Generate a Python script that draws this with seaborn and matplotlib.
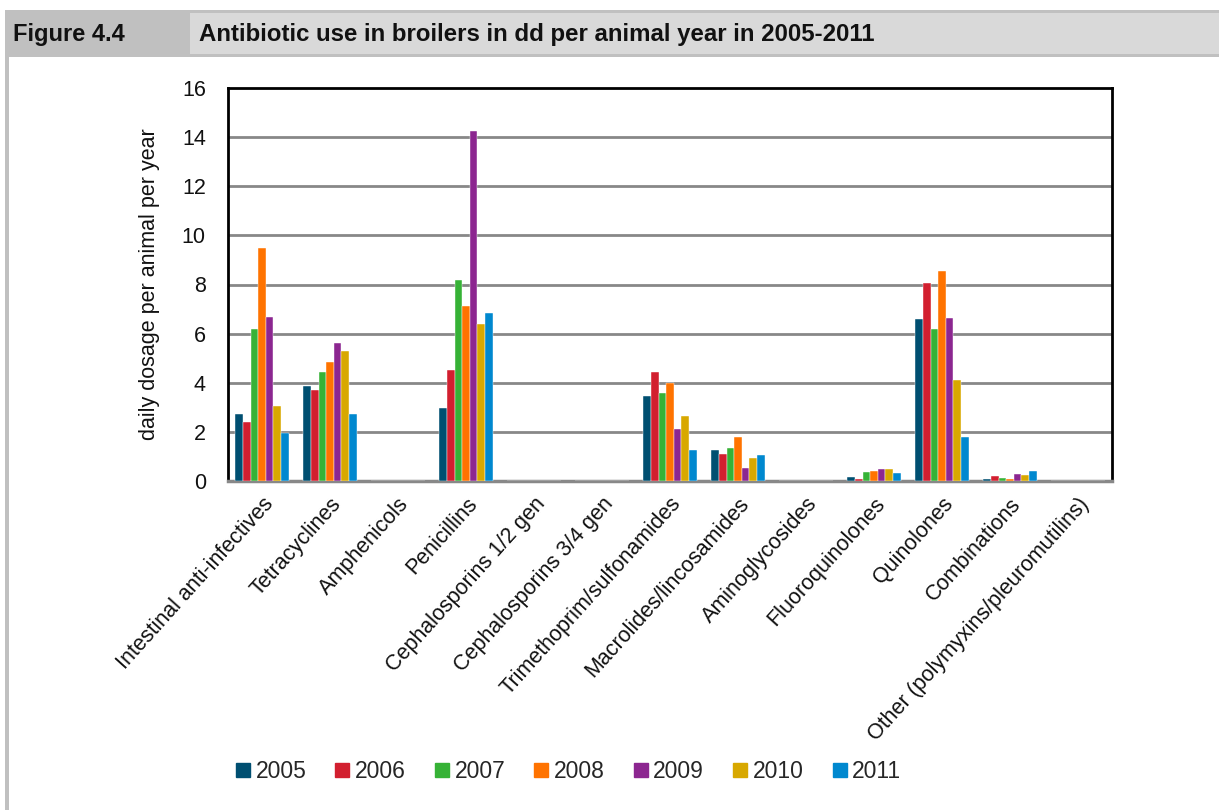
import matplotlib
matplotlib.use("Agg")
import matplotlib.pyplot as plt
from matplotlib.patches import Rectangle
from matplotlib.lines import Line2D
import seaborn as sns
import pandas as pd

categories = [
    "Intestinal anti-infectives", "Tetracyclines", "Amphenicols", "Penicillins",
    "Cephalosporins 1/2 gen", "Cephalosporins 3/4 gen", "Trimethoprim/sulfonamides",
    "Macrolides/lincosamides", "Aminoglycosides", "Fluoroquinolones", "Quinolones",
    "Combinations", "Other (polymyxins/pleuromutilins)",
]
years = ["2005", "2006", "2007", "2008", "2009", "2010", "2011"]

use_2005 = [2.72, 3.85, 0, 2.99, 0, 0, 3.46, 1.25, 0, 0.15, 6.58, 0.07, 0]
use_2006 = [2.40, 3.69, 0, 4.52, 0, 0, 4.44, 1.09, 0, 0.09, 8.07, 0.22, 0]
use_2007 = [6.19, 4.42, 0, 8.18, 0, 0, 3.60, 1.34, 0, 0.37, 6.20, 0.11, 0]
use_2008 = [9.50, 4.86, 0, 7.14, 0, 0, 3.98, 1.78, 0, 0.42, 8.56, 0.09, 0]
use_2009 = [6.68, 5.62, 0, 14.25, 0, 0, 2.13, 0.53, 0, 0.49, 6.63, 0.27, 0]
use_2010 = [3.04, 5.29, 0, 6.39, 0, 0, 2.66, 0.95, 0, 0.49, 4.11, 0.26, 0]
use_2011 = [1.94, 2.72, 0, 6.83, 0, 0, 1.26, 1.05, 0, 0.33, 1.81, 0.39, 0]
series = [use_2005, use_2006, use_2007, use_2008, use_2009, use_2010, use_2011]

y_ticks = [0, 2, 4, 6, 8, 10, 12, 14, 16]
palette = ["#004f71", "#d21f2f", "#36b236", "#ff7300", "#8c2690", "#d8a800", "#0088cf"]

rows = []
for year, vals in zip(years, series):
    for cat, v in zip(categories, vals):
        rows.append({"category": cat, "year": year, "value": v})
df = pd.DataFrame(rows)

sns.set_theme(style="white")
plt.rcParams["font.family"] = ["Liberation Sans", "DejaVu Sans"]

fig = plt.figure(figsize=(12.19, 8.10), dpi=100)
W, H = 1219, 810

def fx(px):
    return px / W

def fy(py):
    return 1 - py / H

# header band
fig.patches.append(Rectangle((fx(5), fy(57)), fx(1219 - 5), (57 - 10) / H,
                             transform=fig.transFigure, facecolor="#c0c0c0",
                             edgecolor="none", zorder=0))
fig.patches.append(Rectangle((fx(190), fy(54)), fx(1219 - 190), (54 - 13) / H,
                             transform=fig.transFigure, facecolor="#d9d9d9",
                             edgecolor="none", zorder=1))
# left border line
fig.patches.append(Rectangle((fx(5), 0), fx(4), fy(10),
                             transform=fig.transFigure, facecolor="#c0c0c0",
                             edgecolor="none", zorder=0))
fig.text(fx(13), fy(35), "Figure 4.4", fontsize=17, fontweight="bold",
         va="center", ha="left", color="#111111")
fig.text(fx(199), fy(35), "Antibiotic use in broilers in dd per animal year in 2005-2011",
         fontsize=17.3, fontweight="bold", va="center", ha="left", color="#111111")

ax = fig.add_axes([fx(228), fy(481), fx(1112 - 228), (481 - 88) / H])
sns.barplot(data=df, x="category", y="value", hue="year", palette=palette,
            saturation=1, width=0.78, gap=0, ax=ax, edgecolor="white",
            linewidth=0.3, legend=False, zorder=3)

ax.set_ylim(0, 16)
ax.set_xlim(-0.5, len(categories) - 0.5)
ax.set_yticks(y_ticks)
ax.set_yticklabels([str(t) for t in y_ticks], fontsize=15.5, color="#111111")
for t in y_ticks[1:-1]:
    ax.axhline(t, color="#888888", linewidth=2, zorder=1)

ax.set_xticks(range(len(categories)))
ax.set_xticklabels(categories, rotation=48, ha="right", rotation_mode="anchor",
                   fontsize=15.5, color="#111111")
ax.tick_params(axis="x", length=0, pad=9)
ax.tick_params(axis="y", length=0, pad=16)
ax.set_xlabel("")
ax.set_ylabel("daily dosage per animal per year", fontsize=15.5, color="#111111",
              labelpad=16)

for side in ["left", "top", "right"]:
    ax.spines[side].set_color("black")
    ax.spines[side].set_linewidth(2)
ax.spines["bottom"].set_color("#888888")
ax.spines["bottom"].set_linewidth(2.5)

handles = [Line2D([0], [0], marker="s", linestyle="none", markersize=10,
                  markerfacecolor=c, markeredgecolor=c) for c in palette]
fig.legend(handles, years, loc="center", ncol=7, frameon=False,
           bbox_to_anchor=(fx(567), fy(772)), fontsize=16.5,
           handletextpad=0.1, columnspacing=1.12, handlelength=0.9)

fig.savefig("out.png", dpi=100)
